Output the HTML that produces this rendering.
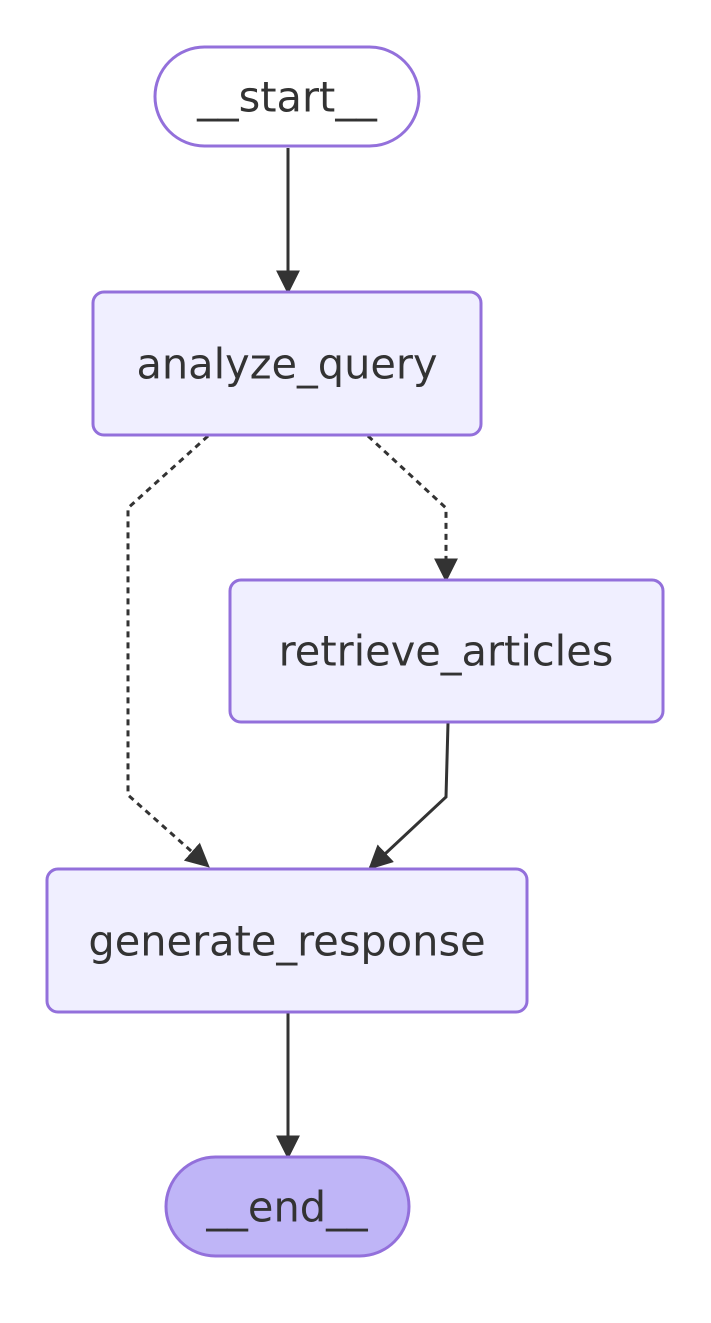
<!DOCTYPE html>
<html><head><meta charset="utf-8"><style>html,body{margin:0;padding:0;background:#fff;}svg{display:block}</style></head>
<body>
<svg width="711" height="1323" viewBox="0 0 711 1323" xmlns="http://www.w3.org/2000/svg">
<defs>
<marker id="b" viewBox="0 0 10 10" refX="9" refY="5" markerWidth="24" markerHeight="24" markerUnits="userSpaceOnUse" orient="auto"><path d="M0,0L10,5L0,10z" fill="#333"/></marker></defs>
<g fill="none" stroke="#333" stroke-width="3">
<path d="M288,148 L288,230 L288,292" marker-end="url(#b)"/>
<path d="M208,436 L128,508 L128,795 L208,866" stroke-dasharray="6,5" marker-end="url(#b)"/>
<path d="M368,436 L446,508 L446,580" stroke-dasharray="6,5" marker-end="url(#b)"/>
<path d="M448,723 L446,797 L370,868" marker-end="url(#b)"/>
<path d="M288,1013 L288,1080 L288,1157" marker-end="url(#b)"/>
</g>
<g stroke="#9370DB" stroke-width="3">
<rect x="155" y="47" width="264" height="99" rx="49.5" fill="#fff"/>
<rect x="93" y="292" width="388" height="143" rx="11" fill="#f0efff"/>
<rect x="230" y="580" width="433" height="142" rx="11" fill="#f0efff"/>
<rect x="47" y="869" width="480" height="143" rx="11" fill="#f0efff"/>
<rect x="166" y="1157" width="243" height="99" rx="49.5" fill="#bfb5f7"/>
</g>
<g font-family="'DejaVu Sans','Liberation Sans',sans-serif" font-size="41.5" fill="#333" text-anchor="middle" dominant-baseline="central">
<text x="287" y="97">__start__</text>
<text x="287" y="364">analyze_query</text>
<text x="446" y="651">retrieve_articles</text>
<text x="287" y="941">generate_response</text>
<text x="287" y="1207">__end__</text>
</g>
</svg>
</body></html>
